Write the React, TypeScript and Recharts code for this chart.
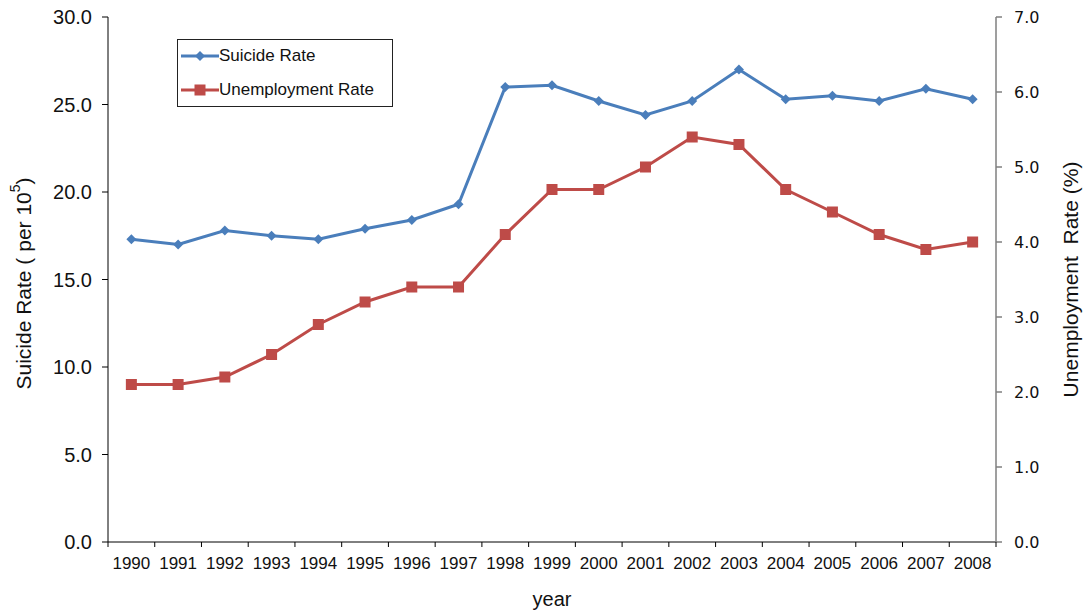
import React from "react";
import {
  ComposedChart,
  Line,
  XAxis,
  YAxis,
  Legend,
  Label,
} from "recharts";

const years = [
  "1990", "1991", "1992", "1993", "1994", "1995", "1996", "1997", "1998", "1999",
  "2000", "2001", "2002", "2003", "2004", "2005", "2006", "2007", "2008",
];

// suicides per 100,000 people
const suicideRate = [
  17.3, 17.0, 17.8, 17.5, 17.3, 17.9, 18.4, 19.3, 26.0, 26.1,
  25.2, 24.4, 25.2, 27.0, 25.3, 25.5, 25.2, 25.9, 25.3,
];

// percent
const unemploymentRate = [
  2.1, 2.1, 2.2, 2.5, 2.9, 3.2, 3.4, 3.4, 4.1, 4.7,
  4.7, 5.0, 5.4, 5.3, 4.7, 4.4, 4.1, 3.9, 4.0,
];

const leftTicks = [0, 5, 10, 15, 20, 25, 30];
const rightTicks = [0, 1, 2, 3, 4, 5, 6, 7];

const data = years.map((year, i) => ({
  year,
  suicide: suicideRate[i],
  unemployment: unemploymentRate[i],
}));

const BLUE = "#4a7ebb";
const RED = "#be4b48";
const FONT = "'Liberation Sans', Arial, Helvetica, sans-serif";

const Diamond = (props: any) => {
  const { cx, cy, index } = props;
  if (cx == null || cy == null) return <g key={`d-${index}`} />;
  const r = 5;
  return (
    <path
      key={`d-${index}`}
      d={`M${cx},${cy - r}L${cx + r},${cy}L${cx},${cy + r}L${cx - r},${cy}Z`}
      fill={BLUE}
    />
  );
};

const Square = (props: any) => {
  const { cx, cy, index } = props;
  if (cx == null || cy == null) return <g key={`s-${index}`} />;
  const s = 11;
  return (
    <rect key={`s-${index}`} x={cx - s / 2} y={cy - s / 2} width={s} height={s} fill={RED} />
  );
};

// year label centred in its band, tick marks on the band edges
const YearTick = (props: any) => {
  const { x, y, payload, index, visibleTicksCount } = props;
  const half = payload && payload.offset ? payload.offset : 888 / 19 / 2;
  const axisY = y - 15;
  const isLast = index === visibleTicksCount - 1;
  return (
    <g>
      <line x1={x - half} y1={axisY} x2={x - half} y2={axisY + 5} stroke="#000" />
      {isLast && (
        <line x1={x + half} y1={axisY} x2={x + half} y2={axisY + 5} stroke="#000" />
      )}
      <text x={x} y={y} dy="0.71em" textAnchor="middle" fontSize={17} fontFamily={FONT} fill="#111">
        {payload.value}
      </text>
    </g>
  );
};

const LeftTitle = (props: any) => {
  const { viewBox } = props;
  const cx = viewBox.x + 23;
  const cy = viewBox.y + viewBox.height / 2 + 4;
  return (
    <text
      x={cx}
      y={cy}
      transform={`rotate(-90, ${cx}, ${cy})`}
      textAnchor="middle"
      dominantBaseline="central"
      fontSize={21}
      fontFamily={FONT}
      fill="#111"
    >
      Suicide Rate ( per 10
      <tspan fontSize={14} dy={-8}>5</tspan>
      <tspan dy={8}>)</tspan>
    </text>
  );
};

const RightTitle = (props: any) => {
  const { viewBox } = props;
  const cx = viewBox.x + 74;
  const cy = viewBox.y + viewBox.height / 2;
  return (
    <text
      x={cx}
      y={cy}
      transform={`rotate(-90, ${cx}, ${cy})`}
      textAnchor="middle"
      dominantBaseline="central"
      fontSize={21}
      fontFamily={FONT}
      fill="#111"
      style={{ whiteSpace: "pre" }}
    >
      {"Unemployment  Rate (%)"}
    </text>
  );
};

const LegendBox = () => {
  const rows = [
    { name: "Suicide Rate", color: BLUE, marker: "diamond" },
    { name: "Unemployment Rate", color: RED, marker: "square" },
  ];
  return (
    <div
      style={{
        width: 216,
        height: 68,
        border: "1px solid #222",
        background: "#fff",
        boxSizing: "border-box",
        fontFamily: FONT,
        fontSize: 17,
        color: "#111",
        paddingTop: 1,
      }}
    >
      {rows.map((r) => (
        <div key={r.name} style={{ display: "flex", alignItems: "center", height: 30, marginBottom: 4 }}>
          <svg width={38} height={14} style={{ marginLeft: 3, flex: "none" }}>
            <line x1={0} y1={7} x2={38} y2={7} stroke={r.color} strokeWidth={3} />
            {r.marker === "diamond" ? (
              <path d="M19,2L24,7L19,12L14,7Z" fill={r.color} />
            ) : (
              <rect x={13.5} y={1.5} width={11} height={11} fill={r.color} />
            )}
          </svg>
          <span>{r.name}</span>
        </div>
      ))}
    </div>
  );
};

export default function App() {
  return (
    <div style={{ width: 1083, height: 614, background: "#fff" }}>
      <style>{`body { margin: 0; }`}</style>
      <ComposedChart
        width={1083}
        height={614}
        data={data}
        margin={{ top: 17, right: 0, bottom: 0, left: 0 }}
      >
        <XAxis
          dataKey="year"
          scale="band"
          height={72}
          tickLine={false}
          tickSize={0}
          tickMargin={15}
          interval={0}
          axisLine={{ stroke: "#000" }}
          tick={<YearTick />}
        >
          <Label
            value="year"
            position="insideBottom"
            offset={8}
            style={{ fontSize: 20, fontFamily: FONT, fill: "#111" }}
          />
        </XAxis>
        <YAxis
          yAxisId="left"
          width={108}
          domain={[0, 30]}
          ticks={leftTicks}
          interval={0}
          tickSize={6}
          tickMargin={10}
          tickFormatter={(v: number) => v.toFixed(1)}
          axisLine={{ stroke: "#000" }}
          tickLine={{ stroke: "#000" }}
          tick={{ fontSize: 20, fontFamily: FONT, fill: "#111" }}
        >
          <Label content={<LeftTitle />} />
        </YAxis>
        <YAxis
          yAxisId="right"
          orientation="right"
          width={87}
          domain={[0, 7]}
          ticks={rightTicks}
          interval={0}
          tickSize={6}
          tickMargin={12}
          tickFormatter={(v: number) => v.toFixed(1)}
          axisLine={{ stroke: "#7f7f7f", strokeWidth: 1.5 }}
          tickLine={{ stroke: "#7f7f7f", strokeWidth: 1.5 }}
          tick={{ fontSize: 16, fontFamily: "'DejaVu Sans', Verdana, sans-serif", fill: "#111" }}
        >
          <Label content={<RightTitle />} />
        </YAxis>
        <Legend
          layout="vertical"
          align="center"
          verticalAlign="middle"
          content={<LegendBox />}
          wrapperStyle={{ left: 177, top: 39, width: 216, height: 68 }}
        />
        <Line
          yAxisId="right"
          type="linear"
          dataKey="unemployment"
          name="Unemployment Rate"
          stroke={RED}
          strokeWidth={3}
          dot={Square}
          activeDot={false}
          isAnimationActive={false}
        />
        <Line
          yAxisId="left"
          type="linear"
          dataKey="suicide"
          name="Suicide Rate"
          stroke={BLUE}
          strokeWidth={3}
          dot={Diamond}
          activeDot={false}
          isAnimationActive={false}
        />
      </ComposedChart>
    </div>
  );
}
